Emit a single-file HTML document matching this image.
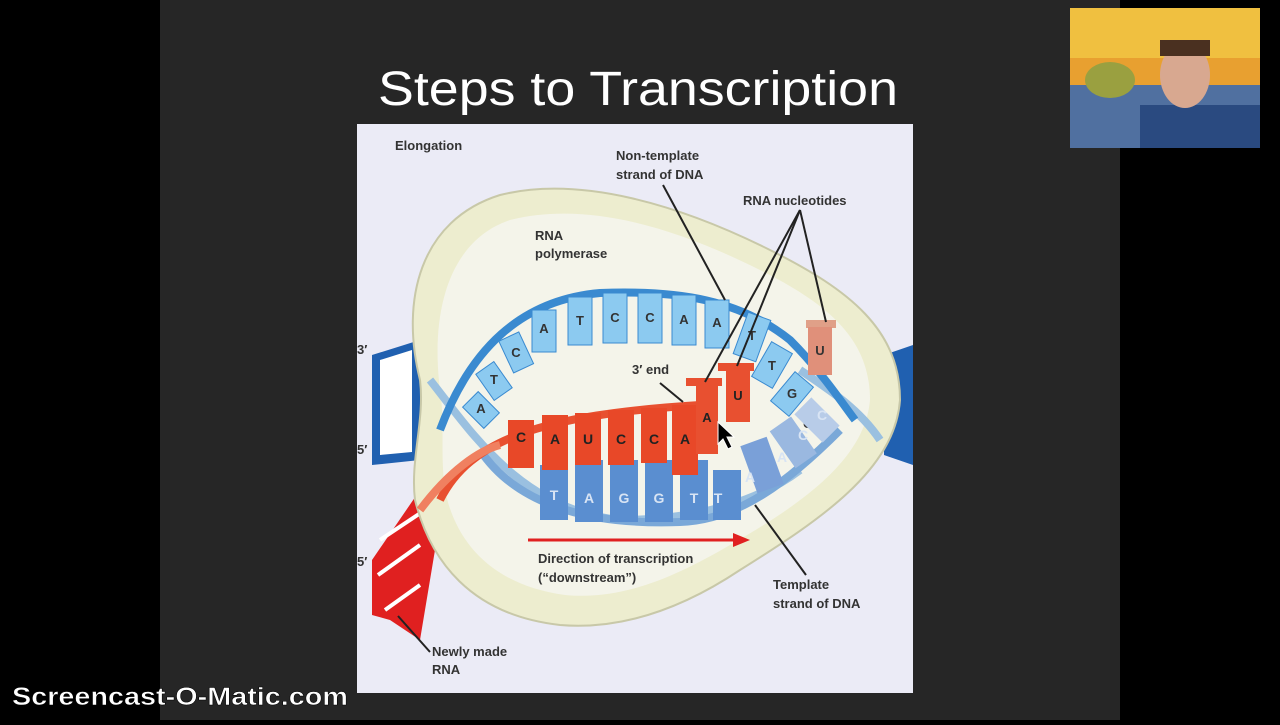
<!DOCTYPE html>
<html><head><meta charset="utf-8"><style>
body{margin:0;width:1280px;height:720px;background:#000;overflow:hidden;font-family:"Liberation Sans",sans-serif}
</style></head><body>
<svg width="1280" height="720" xmlns="http://www.w3.org/2000/svg" font-family="Liberation Sans, sans-serif">
<rect x="0" y="0" width="1280" height="720" fill="#000"/>
<rect x="160" y="0" width="960" height="720" fill="#262626"/>
<text x="638" y="105" font-size="48" fill="#fff" text-anchor="middle" textLength="520" lengthAdjust="spacingAndGlyphs">Steps to Transcription</text>
<!-- webcam -->
<rect x="1070" y="8" width="190" height="140" fill="#e8a030"/>
<rect x="1070" y="8" width="190" height="50" fill="#f0c040"/>
<rect x="1070" y="85" width="190" height="63" fill="#5070a0"/>
<ellipse cx="1110" cy="80" rx="25" ry="18" fill="#9aa040"/>
<rect x="1140" y="105" width="120" height="43" fill="#2a4a80"/>
<ellipse cx="1185" cy="75" rx="25" ry="33" fill="#d8a890"/>
<rect x="1160" y="40" width="50" height="16" fill="#4a3020"/>
<!-- diagram panel -->
<rect x="357" y="124" width="556" height="569" fill="#ebebf6"/>
<text x="395" y="150" font-size="13" font-weight="bold" fill="#333">Elongation</text>
<!-- outer DNA left/right -->
<path d="M372 355 L420 340 L420 460 L372 465 Z" fill="#2060b0"/>
<path d="M380 360 L412 350 L412 452 L380 455 Z" fill="#fff"/>
<path d="M884 355 L913 345 L913 465 L884 455 Z" fill="#2060b0"/>
<!-- red RNA leaving -->
<path d="M372 560 L420 490 L440 520 L420 640 L390 620 L372 615 Z" fill="#e02020"/>
<line x1="380" y1="540" x2="425" y2="510" stroke="#fff" stroke-width="4"/>
<line x1="378" y1="575" x2="420" y2="545" stroke="#fff" stroke-width="4"/>
<line x1="385" y1="610" x2="420" y2="585" stroke="#fff" stroke-width="4"/>
<!-- polymerase blob -->
<path d="M420 380 C400 300 420 220 500 195 C580 175 680 205 770 250 C850 290 900 330 900 400 C895 470 820 520 740 570 C680 610 620 630 560 625 C470 615 430 560 415 500 C410 460 425 420 420 380 Z" fill="#ededcf" stroke="#c8c8a8" stroke-width="2"/>
<path d="M440 390 C430 310 450 240 510 220 C590 200 680 230 760 270 C830 305 870 340 870 400 C865 460 800 505 730 545 C670 580 620 600 565 595 C490 585 455 540 445 490 C440 455 445 420 440 390 Z" fill="#f4f4ea"/>
<text x="535" y="240" font-size="13" font-weight="bold" fill="#333">RNA</text>
<text x="535" y="258" font-size="13" font-weight="bold" fill="#333">polymerase</text>
<!-- background strands -->
<path d="M430 380 C470 430 520 510 620 520 C700 520 760 500 800 470" fill="none" stroke="#9ac0e0" stroke-width="8"/>
<path d="M800 370 C830 390 860 410 880 440" fill="none" stroke="#9ac0e0" stroke-width="8"/>
<!-- top non-template arc -->
<path d="M440 430 C470 350 520 300 600 293 C680 290 740 300 790 340 C820 370 840 400 855 420" fill="none" stroke="#3a8ad0" stroke-width="8"/>
<g fill="#8ccaf0" stroke="#3a8ad0" stroke-width="1">
<rect x="470" y="395" width="22" height="30" transform="rotate(-45 481 410)"/>
<rect x="483" y="365" width="22" height="32" transform="rotate(-35 494 381)"/>
<rect x="505" y="335" width="22" height="35" transform="rotate(-25 516 352)"/>
<rect x="532" y="310" width="24" height="42"/>
<rect x="568" y="297" width="24" height="48"/>
<rect x="603" y="293" width="24" height="50"/>
<rect x="638" y="293" width="24" height="50"/>
<rect x="672" y="295" width="24" height="50"/>
<rect x="705" y="300" width="24" height="48"/>
<rect x="740" y="315" width="24" height="44" transform="rotate(20 752 337)"/>
<rect x="760" y="345" width="24" height="40" transform="rotate(30 772 365)"/>
<rect x="780" y="375" width="24" height="38" transform="rotate(40 792 394)"/>
</g>
<g font-size="13" font-weight="bold" fill="#333" text-anchor="middle">
<text x="481" y="413">A</text><text x="494" y="384">T</text><text x="516" y="357">C</text>
<text x="544" y="333">A</text><text x="580" y="325">T</text><text x="615" y="322">C</text>
<text x="650" y="322">C</text><text x="684" y="324">A</text><text x="717" y="327">A</text>
<text x="752" y="340">T</text><text x="772" y="370">T</text><text x="792" y="398">G</text>
<text x="808" y="428">G</text>
</g>
<!-- template blue tiles -->
<path d="M480 450 C520 510 600 525 680 522 C740 520 790 480 840 430" fill="none" stroke="#7aa8d8" stroke-width="8"/>
<g fill="#5a8ed0">
<rect x="540" y="465" width="28" height="55"/><rect x="575" y="460" width="28" height="62"/>
<rect x="610" y="460" width="28" height="62"/><rect x="645" y="460" width="28" height="62"/>
<rect x="680" y="460" width="28" height="60"/><rect x="713" y="470" width="28" height="50"/>
<rect x="748" y="440" width="28" height="50" transform="rotate(-20 762 465)" fill="#7aa0d8"/>
<rect x="780" y="420" width="26" height="45" transform="rotate(-35 793 442)" fill="#9ab8e0"/>
<rect x="805" y="400" width="24" height="40" transform="rotate(-45 817 420)" fill="#b8cce8"/>
</g>
<g font-size="14" font-weight="bold" fill="#d8e4f4" text-anchor="middle">
<text x="554" y="500">T</text><text x="589" y="503">A</text><text x="624" y="503">G</text>
<text x="659" y="503">G</text><text x="694" y="503">T</text><text x="718" y="503">T</text>
<text x="750" y="482">A</text><text x="782" y="462">A</text><text x="803" y="440">C</text><text x="822" y="420">C</text>
</g>
<!-- RNA red strand -->
<path d="M440 500 C470 440 540 415 700 405" fill="none" stroke="#e85030" stroke-width="8"/>
<path d="M420 510 C450 470 480 450 500 445" fill="none" stroke="#f08060" stroke-width="8"/>
<g fill="#e84828">
<rect x="508" y="420" width="26" height="48"/><rect x="542" y="415" width="26" height="55"/>
<rect x="575" y="413" width="26" height="52"/><rect x="608" y="410" width="26" height="55"/>
<rect x="641" y="408" width="26" height="55"/><rect x="672" y="405" width="26" height="70"/>
</g>
<g font-size="14" font-weight="bold" fill="#222" text-anchor="middle">
<text x="521" y="442">C</text><text x="555" y="444">A</text><text x="588" y="444">U</text>
<text x="621" y="444">C</text><text x="654" y="444">C</text><text x="685" y="444">A</text>
</g>
<!-- incoming nucleotides -->
<rect x="686" y="378" width="36" height="8" fill="#e85030"/>
<rect x="696" y="384" width="22" height="70" fill="#e85030"/>
<text x="707" y="422" font-size="13" font-weight="bold" fill="#222" text-anchor="middle">A</text>
<rect x="718" y="363" width="36" height="8" fill="#e85030"/>
<rect x="726" y="370" width="24" height="52" fill="#e85030"/>
<text x="738" y="400" font-size="13" font-weight="bold" fill="#222" text-anchor="middle">U</text>
<rect x="806" y="320" width="30" height="8" fill="#e0a088"/>
<rect x="808" y="327" width="24" height="48" fill="#e0907a"/>
<text x="820" y="355" font-size="13" font-weight="bold" fill="#333" text-anchor="middle">U</text>
<!-- labels & lines -->
<g stroke="#222" stroke-width="2">
<line x1="663" y1="185" x2="725" y2="300"/>
<line x1="800" y1="210" x2="705" y2="382"/>
<line x1="800" y1="210" x2="737" y2="366"/>
<line x1="800" y1="210" x2="826" y2="322"/>
<line x1="660" y1="383" x2="683" y2="402"/>
<line x1="755" y1="505" x2="806" y2="575"/>
<line x1="398" y1="616" x2="430" y2="652"/>
</g>
<g font-size="13" font-weight="bold" fill="#333">
<text x="616" y="160">Non-template</text><text x="616" y="179">strand of DNA</text>
<text x="743" y="205">RNA nucleotides</text>
<text x="632" y="374">3′ end</text>
<text x="538" y="563">Direction of transcription</text>
<text x="538" y="582">(“downstream”)</text>
<text x="773" y="589">Template</text><text x="773" y="608">strand of DNA</text>
<text x="432" y="656">Newly made</text><text x="432" y="674">RNA</text>
<text x="357" y="354">3′</text><text x="357" y="454">5′</text><text x="357" y="566">5′</text>
</g>
<line x1="528" y1="540" x2="735" y2="540" stroke="#e02020" stroke-width="3"/>
<polygon points="733,533 750,540 733,547" fill="#e02020"/>
<!-- cursor -->
<polygon points="718,422 718,444 723,439 728,449 732,447 727,437 734,437" fill="#000" stroke="#fff" stroke-width="1"/>
<!-- watermark -->
<text x="12" y="705" font-size="25" font-weight="bold" fill="#fff" stroke="#000" stroke-width="0.5" textLength="336" lengthAdjust="spacingAndGlyphs">Screencast-O-Matic.com</text>
</svg>
</body></html>
